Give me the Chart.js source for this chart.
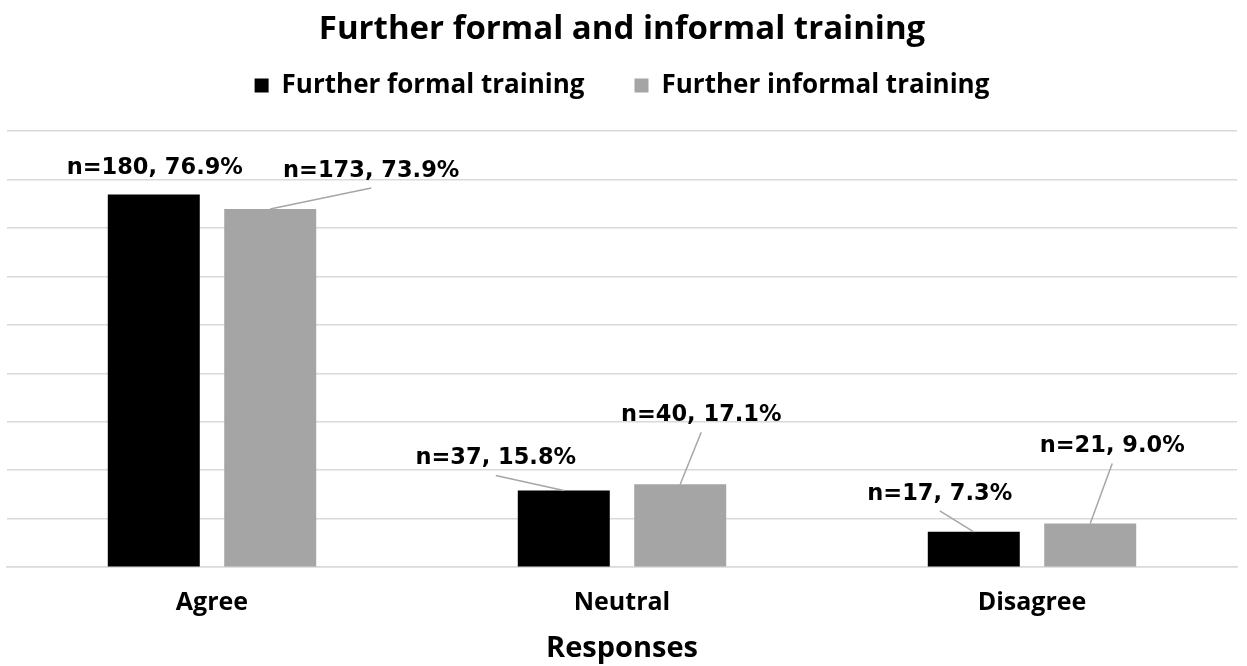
<!DOCTYPE html>
<html lang="en">
<head>
    <meta charset="UTF-8">
    <title>Further formal and informal training</title>
    <script src="https://cdn.jsdelivr.net/npm/chart.js"></script>
    <style>
        html, body {
            margin: 0;
            padding: 0;
            background: #ffffff;
        }
        .chart-box {
            width: 1247px;
            height: 666px;
        }
    </style>
</head>
<body>
    <div class="chart-box">
        <canvas id="trainingChart" width="1247" height="666"></canvas>
    </div>

    <script>
        // Data
        const categories = ['Agree', 'Neutral', 'Disagree'];
        const formalCounts = [180, 37, 17];
        const formalPercent = [76.9, 15.8, 7.3];
        const informalCounts = [173, 40, 21];
        const informalPercent = [73.9, 17.1, 9.0];
        const seriesNames = ['Further formal training', 'Further informal training'];
        const gridTop = 90; // last gridline drawn

        // where each data label sits relative to the top of its bar (px), and whether it gets a leader line
        const labelPlacement = [
            [{ dx: 1, dy: -26, line: false }, { dx: -68, dy: -32, line: true }, { dx: -34, dy: -38, line: true }],
            [{ dx: 101, dy: -38, line: true }, { dx: 21, dy: -69, line: true }, { dx: 22, dy: -77, line: true }]
        ];

        const countsBySeries = [formalCounts, informalCounts];

        // data labels like "n=180, 76.9%" with Excel style leader lines
        const barLabels = {
            id: 'barLabels',
            afterDatasetsDraw(chart) {
                const ctx = chart.ctx;
                ctx.save();
                ctx.font = 'bold 22.5px "DejaVu Sans", sans-serif';
                ctx.textAlign = 'center';
                ctx.textBaseline = 'middle';
                chart.data.datasets.forEach((ds, di) => {
                    const meta = chart.getDatasetMeta(di);
                    meta.data.forEach((bar, i) => {
                        const p = labelPlacement[di][i];
                        const lx = bar.x + p.dx;
                        const ly = bar.y + p.dy;
                        if (p.line) {
                            ctx.strokeStyle = '#a6a6a6';
                            ctx.lineWidth = 1.5;
                            ctx.beginPath();
                            ctx.moveTo(bar.x, bar.y);
                            ctx.lineTo(lx, ly + 17);
                            ctx.stroke();
                        }
                        ctx.fillStyle = '#000000';
                        const txt = 'n=' + countsBySeries[di][i] + ', ' + ds.data[i].toFixed(1) + '%';
                        ctx.fillText(txt, lx, ly);
                    });
                });
                ctx.restore();
            }
        };

        const ctxTraining = document.getElementById('trainingChart').getContext('2d');
        const trainingChart = new Chart(ctxTraining, {
            type: 'bar',
            data: {
                labels: categories,
                datasets: [{
                    label: seriesNames[0],
                    data: formalPercent,
                    backgroundColor: '#000000',
                    categoryPercentage: 0.568,
                    barPercentage: 0.79
                }, {
                    label: seriesNames[1],
                    data: informalPercent,
                    backgroundColor: '#a5a5a5',
                    categoryPercentage: 0.568,
                    barPercentage: 0.79
                }]
            },
            options: {
                responsive: false,
                animation: false,
                layout: {
                    padding: { left: 7, right: 10, top: 10, bottom: 0 }
                },
                plugins: {
                    title: {
                        display: true,
                        text: 'Further formal and informal training',
                        color: '#000000',
                        font: { family: 'Open Sans', size: 33, weight: 'bold' },
                        padding: { top: 0, bottom: -27 }
                    },
                    legend: {
                        display: true,
                        position: 'top',
                        labels: {
                            color: '#000000',
                            font: { family: 'Open Sans', size: 26, weight: 'bold' },
                            boxWidth: 14,
                            boxHeight: 14,
                            padding: 50
                        }
                    },
                    tooltip: { enabled: false }
                },
                scales: {
                    x: {
                        grid: { display: false },
                        border: { color: '#d9d9d9', width: 1.5 },
                        ticks: {
                            color: '#000000',
                            font: { family: 'Open Sans', size: 25, weight: 'bold' },
                            padding: 13
                        },
                        title: {
                            display: true,
                            text: 'Responses',
                            color: '#000000',
                            font: { family: 'Open Sans', size: 29, weight: 'bold' },
                            padding: { top: 0, bottom: 0 }
                        }
                    },
                    y: {
                        min: 0,
                        max: 94.6,
                        ticks: { display: false, stepSize: 10 },
                        border: { display: false },
                        grid: {
                            color: (c) => (c.tick && c.tick.value <= gridTop ? '#d9d9d9' : 'rgba(0,0,0,0)'),
                            lineWidth: 1.5,
                            drawTicks: false
                        }
                    }
                }
            },
            plugins: [barLabels]
        });
    </script>
</body>
</html>
